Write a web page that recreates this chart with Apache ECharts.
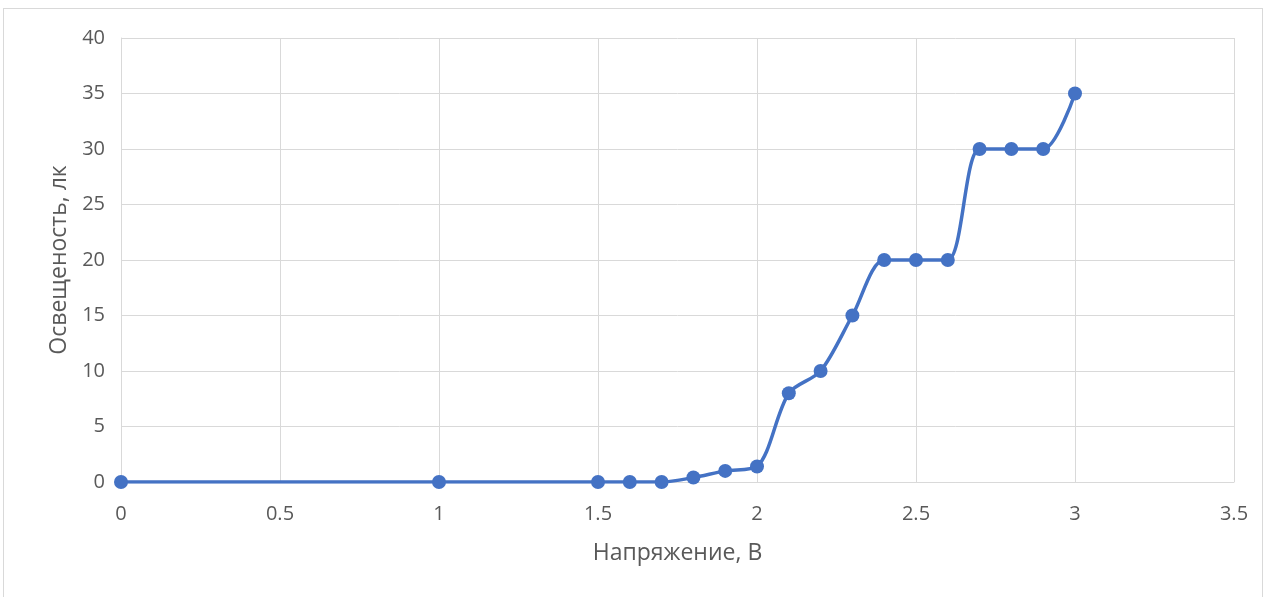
<!DOCTYPE html>
<html><head><meta charset="utf-8">
<script src="https://cdn.jsdelivr.net/npm/echarts@6/dist/echarts.min.js"></script>
<style>
html,body{margin:0;padding:0;background:#fff;}
#frame{position:absolute;left:3px;top:8px;width:1260px;height:600px;border:1px solid #d9d9d9;box-sizing:border-box;}
#c{position:absolute;left:0;top:0;width:1270px;height:597px;}
</style></head>
<body>
<div id="frame"></div>
<div id="c"></div>
<script>
const voltage = [0, 1, 1.5, 1.6, 1.7, 1.8, 1.9, 2.0, 2.1, 2.2, 2.3, 2.4, 2.5, 2.6, 2.7, 2.8, 2.9, 3.0];
const illuminance = [0, 0, 0, 0, 0, 0.4, 1.0, 1.4, 8, 10, 15, 20, 20, 20, 30, 30, 30, 35];
const xTitle = 'Напряжение, В';
const yTitle = 'Освещеность, лк';

const chart = echarts.init(document.getElementById('c'));
const font = '"Open Sans", "Noto Sans", sans-serif';
chart.setOption({
  animation: false,
  grid: {left: 121, right: 36, top: 38, bottom: 115},
  xAxis: {
    type: 'value', min: 0, max: 3.5, interval: 0.5,
    name: xTitle, nameLocation: 'middle', nameGap: 60,
    nameTextStyle: {color: '#595959', fontSize: 23, fontFamily: font},
    axisLine: {show: true, lineStyle: {color: '#d9d9d9'}},
    axisTick: {show: false},
    axisLabel: {color: '#595959', fontSize: 20, fontFamily: font, margin: 22},
    splitLine: {show: true, lineStyle: {color: '#d9d9d9', width: 1}}
  },
  yAxis: {
    type: 'value', min: 0, max: 40, interval: 5,
    name: yTitle, nameLocation: 'middle', nameGap: 45,
    nameTextStyle: {color: '#595959', fontSize: 23, fontFamily: font},
    axisLine: {show: true, lineStyle: {color: '#d9d9d9'}},
    axisTick: {show: false},
    axisLabel: {color: '#595959', fontSize: 20, fontFamily: font, margin: 16},
    splitLine: {show: true, lineStyle: {color: '#d9d9d9', width: 1}}
  },
  series: [{
    type: 'line',
    data: voltage.map((v, i) => [v, illuminance[i]]),
    smooth: 0.3,
    symbol: 'circle', symbolSize: 14,
    lineStyle: {color: '#4472c4', width: 3.5},
    itemStyle: {color: '#4472c4'}
  }]
});
</script>
</body></html>
